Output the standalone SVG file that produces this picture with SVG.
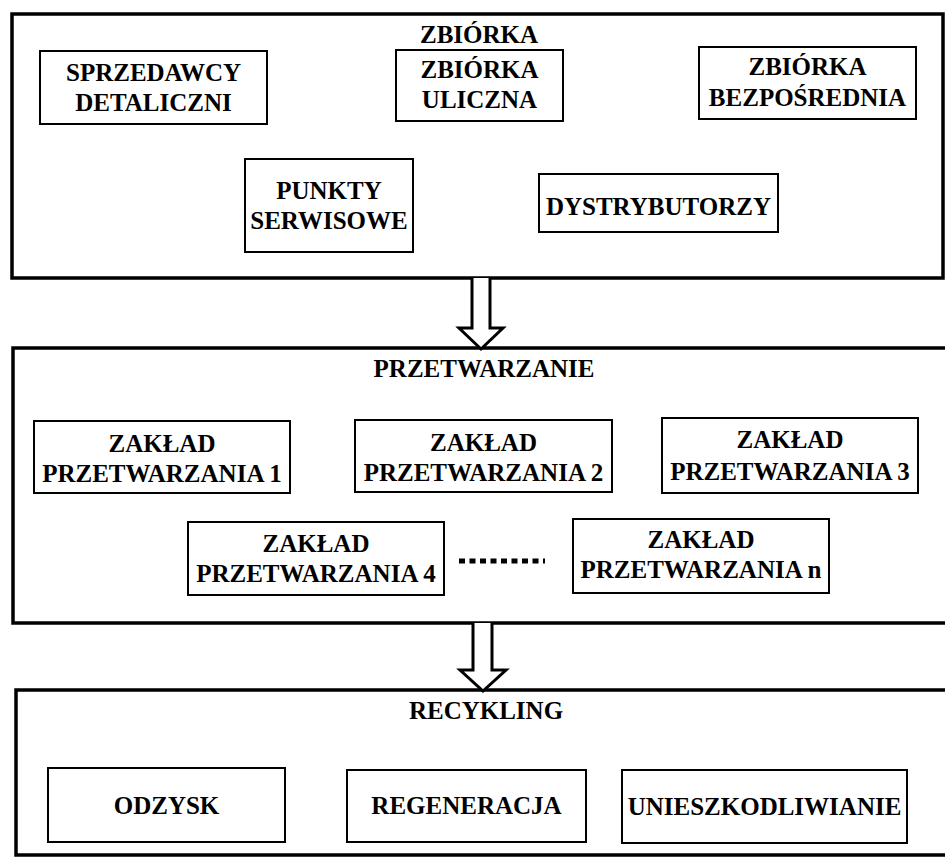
<svg xmlns="http://www.w3.org/2000/svg" width="945" height="857" viewBox="0 0 945 857">
<style>
.outer{fill:none;stroke:#000;stroke-width:3.5}
.box{fill:#fff;stroke:#000;stroke-width:2}
.t{font-family:"Liberation Serif","Times New Roman",serif;font-weight:bold;font-size:25px;text-anchor:middle;fill:#000}
.arrow{fill:#fff;stroke:#000;stroke-width:3;stroke-linejoin:miter}
</style>
<rect width="945" height="857" fill="#fff"/>
<g id="stage-zbiorka">
<rect class="outer" x="12" y="14" width="931" height="264"/>
<text class="t" x="479" y="43">ZBIÓRKA</text>
</g>
<g id="stage-przetwarzanie">
<rect class="outer" x="13" y="348" width="940" height="275"/>
<text class="t" x="484" y="377">PRZETWARZANIE</text>
</g>
<g id="stage-recykling">
<rect class="outer" x="16" y="690" width="940" height="165"/>
<text class="t" x="486" y="719">RECYKLING</text>
</g>
<g id="connectors">
<path class="arrow" d="M472 278 V328 H459 L481 349 L503 328 H490 V278"/>
<path class="arrow" d="M473 623 V670 H460 L483 691 L506 670 H492 V623"/>
</g>
<g id="sprzedawcy">
<rect class="box" x="40" y="51" width="227" height="73"/>
<text class="t" x="153.5" y="81">SPRZEDAWCY</text>
<text class="t" x="153.5" y="111">DETALICZNI</text>
</g>
<g id="zbiorka-uliczna">
<rect class="box" x="396" y="50" width="167" height="71"/>
<text class="t" x="479.5" y="78">ZBIÓRKA</text>
<text class="t" x="479.5" y="108">ULICZNA</text>
</g>
<g id="zbiorka-bezposrednia">
<rect class="box" x="699" y="47" width="217" height="72"/>
<text class="t" x="807.5" y="75">ZBIÓRKA</text>
<text class="t" x="807.5" y="106">BEZPOŚREDNIA</text>
</g>
<g id="punkty-serwisowe">
<rect class="box" x="245" y="159" width="168" height="93"/>
<text class="t" x="329" y="199">PUNKTY</text>
<text class="t" x="329" y="229">SERWISOWE</text>
</g>
<g id="dystrybutorzy">
<rect class="box" x="539" y="174" width="239" height="58"/>
<text class="t" x="658.5" y="215">DYSTRYBUTORZY</text>
</g>
<g id="zaklad-1">
<rect class="box" x="34" y="421" width="256" height="72"/>
<text class="t" x="162" y="452">ZAKŁAD</text>
<text class="t" x="162" y="482">PRZETWARZANIA 1</text>
</g>
<g id="zaklad-2">
<rect class="box" x="355" y="420" width="257" height="72"/>
<text class="t" x="483.5" y="451">ZAKŁAD</text>
<text class="t" x="483.5" y="481">PRZETWARZANIA 2</text>
</g>
<g id="zaklad-3">
<rect class="box" x="662" y="418" width="256" height="75"/>
<text class="t" x="790" y="448">ZAKŁAD</text>
<text class="t" x="790" y="480">PRZETWARZANIA 3</text>
</g>
<g id="zaklad-4">
<rect class="box" x="188" y="522" width="256" height="73"/>
<text class="t" x="316" y="552">ZAKŁAD</text>
<text class="t" x="316" y="582">PRZETWARZANIA 4</text>
</g>
<g id="ellipsis">
<line x1="459" y1="561" x2="545" y2="561" stroke="#000" stroke-width="5" stroke-dasharray="6 4.5"/>
</g>
<g id="zaklad-n">
<rect class="box" x="573" y="519" width="256" height="74"/>
<text class="t" x="701" y="548">ZAKŁAD</text>
<text class="t" x="701" y="578">PRZETWARZANIA n</text>
</g>
<g id="odzysk">
<rect class="box" x="48" y="768" width="237" height="74"/>
<text class="t" x="166.5" y="814">ODZYSK</text>
</g>
<g id="regeneracja">
<rect class="box" x="347" y="770" width="239" height="72"/>
<text class="t" x="466.5" y="814">REGENERACJA</text>
</g>
<g id="unieszkodliwianie">
<rect class="box" x="622" y="770" width="285" height="73"/>
<text class="t" x="764.5" y="815">UNIESZKODLIWIANIE</text>
</g>
</svg>
